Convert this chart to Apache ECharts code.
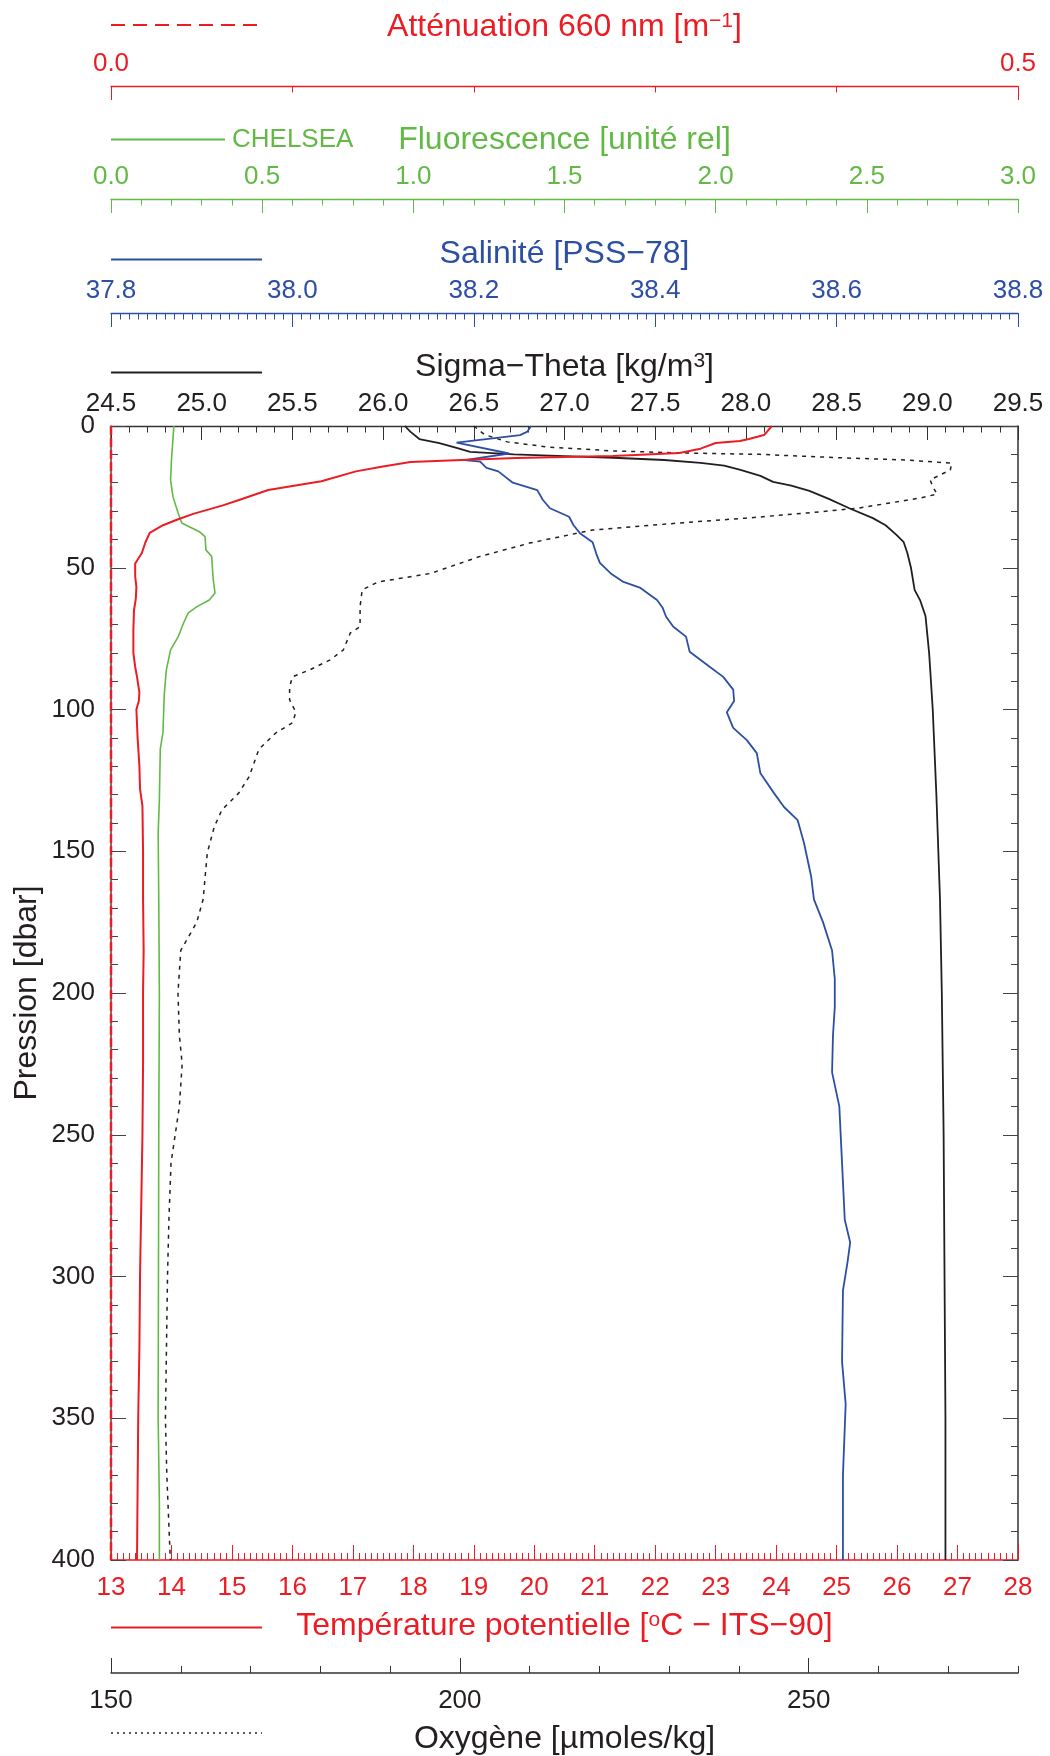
<!DOCTYPE html>
<html><head><meta charset="utf-8">
<script src="https://cdn.jsdelivr.net/npm/echarts@6/dist/echarts.min.js"></script>
<style>html,body{margin:0;padding:0;background:#fff}#c{width:1050px;height:1756px}</style>
</head><body><div id="c"></div>
<script>
// ---- Data (pressure in dbar) ----
const tempP = [0,2,3.2,4.6,5.3,6,8,9.5,10.6,11.3,12,12.7,14.5,16,19.5,22.6,26,28,31,33,35,37.7,41,44.8,48.5,53,56.8,61,65,72,80,85,88.5,94,97,100,110,120,128,134,150,167,185,200,225,250,275,300,325,350,375,400];
const tempV = [23.93,23.85,23.8,23.55,23.4,23.0,22.75,22.4,21.3,19.7,18.8,17.95,17.45,17.05,16.48,15.6,15.13,14.85,14.36,14.1,13.86,13.64,13.57,13.51,13.4,13.4,13.42,13.41,13.38,13.37,13.37,13.4,13.43,13.47,13.46,13.42,13.44,13.47,13.48,13.52,13.53,13.53,13.54,13.53,13.53,13.52,13.5,13.48,13.47,13.45,13.44,13.43];

const sigmaP = [0,2,4.6,6,7.8,9.1,10,10.6,11.2,12,13,14,15.5,17.6,19.7,21,22.9,25.8,29,32.5,35,38.4,41,44.8,50,57.8,61.4,67,80,100,130,167,200,250,300,350,400];
const sigmaV = [26.12,26.15,26.2,26.31,26.41,26.48,26.72,27.0,27.27,27.55,27.75,27.88,27.97,28.08,28.15,28.25,28.35,28.46,28.57,28.7,28.77,28.83,28.87,28.89,28.91,28.93,28.96,28.99,29.01,29.03,29.05,29.07,29.08,29.09,29.095,29.1,29.1];

const salP = [0,2,3.2,5.9,9.7,12,12.6,14.8,16,20,22.6,26,29,32,35,37.8,41,45,48.3,52,55,57,61.4,64,67.3,70.8,74.3,79.6,84.9,88.5,93,97,101,106.5,110.8,115.4,122.5,129.5,134.4,139,147,159,167,175,185,195,205,215,228,240,260,280,288,295,305,330,345,370,400];
const salV = [38.263,38.259,38.251,38.181,38.239,38.19,38.207,38.214,38.227,38.243,38.27,38.276,38.284,38.305,38.31,38.317,38.331,38.335,38.339,38.351,38.365,38.383,38.402,38.408,38.412,38.42,38.434,38.438,38.46,38.475,38.486,38.487,38.479,38.486,38.501,38.512,38.516,38.531,38.542,38.557,38.564,38.572,38.575,38.585,38.595,38.598,38.598,38.596,38.595,38.603,38.606,38.609,38.615,38.612,38.607,38.606,38.61,38.607,38.607];

const fluoP = [0,12,19,25,30.7,34.2,37.4,39,43.7,46,54,58.9,61.4,63.8,66,69.5,74.4,79,86,95,108,114,132,143.6,167,200,250,300,350,380,400];
const fluoV = [0.208,0.2,0.197,0.205,0.222,0.234,0.294,0.311,0.314,0.333,0.338,0.344,0.325,0.283,0.255,0.24,0.222,0.197,0.183,0.176,0.172,0.163,0.16,0.156,0.158,0.16,0.158,0.157,0.156,0.16,0.16];

const oxyP = [0,3,5.6,7.4,8.8,9.5,10,11.2,12,13.1,15.5,19,21.5,24,25.4,29,30.7,32.5,34.2,36.7,41.3,46,52,55,57.8,63.7,70.8,73,79,82.5,86,88.5,92,96.6,101,104.7,108.3,114,123.7,129.5,135.4,141.4,150.6,167,175,185,200,215,225,240,260,280,300,350,370,400];
const oxyV = [202,203.5,206.8,212.5,222,231.6,243,254.5,264,270.5,270.3,267.4,267.8,268.4,266,257,249.7,241,231.5,219,210,202.9,195.8,188.3,186,185.7,185.7,184.3,183.3,181.4,178.5,176,175.6,175.6,176.5,176,173.6,171.2,169.8,168.3,165.9,164.8,163.8,163.2,162.3,160,159.6,159.8,160.2,159.8,158.6,158.3,158.1,157.8,158,158.5];

const attP = [0,400];
const attV = [0,0];

// tick label values [min, max, interval]
const sigmaTicks = [24.5,29.5,0.5];
const salTicks = [37.8,38.8,0.2];
const fluoTicks = [0,3,0.5];
const attTicks = [0,0.5,0.5];
const tempTicks = [13,28,1];
const oxyTicks = [150,280,50];
const presTicks = [0,400,50];

const RED='#ec1c24', GREEN='#62b946', BLUE='#2c4fa4', BLACK='#231f20', GREY='#444';
const FF='"Liberation Sans", Arial, Helvetica, sans-serif';

function pairs(vals, ps){ return vals.map((v,i)=>[v, ps[i]]); }

const sup = {fontSize:21, fontFamily:FF, verticalAlign:'top', padding:[0,0,12,0]};
function nameStyle(color){ return {fontFamily:FF, fontSize:32, color:color, rich:{sup:Object.assign({color:color}, sup)}}; }

function topAxis(t, offset, color, name, minorSplit, fmt, tickColor){
  return {
    type:'value', position:'top', offset:offset, min:t[0], max:t[1], interval:t[2],
    axisLine:{show:true, onZero:false, lineStyle:{color:tickColor||color, width:1.3}},
    axisTick:{show:true, inside:true, length:14, lineStyle:{color:tickColor||color, width:1}},
    minorTick:{show:true, splitNumber:minorSplit, length:6.5, lineStyle:{color:tickColor||color, width:1}},
    axisLabel:{show:true, margin:9.5, fontSize:26, fontFamily:FF, color:color, formatter:fmt},
    splitLine:{show:false}, minorSplitLine:{show:false},
    name:name, nameLocation:'middle', nameGap:42.5, nameMoveOverlap:false, nameTextStyle:nameStyle(color)
  };
}
const f1 = v => Number(v).toFixed(1);

const option = {
  animation:false,
  textStyle:{fontFamily:FF},
  grid:{left:111, right:32, top:426, bottom:196, containLabel:false, outerBoundsMode:'none'},
  xAxis:[
    topAxis(sigmaTicks, 0, BLACK, 'Sigma−Theta [kg/m{sup|3}]', 5, f1, '#333'),
    topAxis(salTicks, 113, BLUE, 'Salinité [PSS−78]', 20, f1),
    topAxis(fluoTicks, 227, GREEN, 'Fluorescence [unité rel]', 5, f1),
    topAxis(attTicks, 340, RED, 'Atténuation 660 nm [m{sup|−1}]', 5, f1),
    {
      type:'value', position:'bottom', offset:0, min:tempTicks[0], max:tempTicks[1], interval:tempTicks[2],
      axisLine:{show:true, onZero:false, lineStyle:{color:RED, width:1.5}},
      axisTick:{show:true, inside:true, length:15, lineStyle:{color:RED, width:1}},
      minorTick:{show:true, splitNumber:10, length:7, lineStyle:{color:RED, width:1}},
      axisLabel:{margin:15, fontSize:26, fontFamily:FF, color:RED},
      splitLine:{show:false}, minorSplitLine:{show:false},
      name:'Température potentielle [{sup|o}C − ITS−90]', nameLocation:'middle', nameGap:50, nameMoveOverlap:false,
      nameTextStyle:nameStyle(RED)
    },
    {
      type:'value', position:'bottom', offset:113, min:oxyTicks[0], max:oxyTicks[1], interval:10,
      axisLine:{show:true, onZero:false, lineStyle:{color:'#333', width:1.5}},
      axisTick:{show:true, inside:true, length:7, lineStyle:{color:'#333', width:1}},
      axisLabel:{margin:15, fontSize:26, fontFamily:FF, color:BLACK, formatter:v => (v % oxyTicks[2] === 0 ? String(v) : '')},
      splitLine:{show:false},
      name:'Oxygène [µmoles/kg]', nameLocation:'middle', nameGap:50, nameMoveOverlap:false,
      nameTextStyle:nameStyle(BLACK)
    },
    {
      type:'value', position:'bottom', offset:113, min:oxyTicks[0], max:oxyTicks[1], interval:oxyTicks[2],
      axisLine:{show:false, onZero:false},
      axisTick:{show:true, inside:true, length:15, customValues:[150,200,250], lineStyle:{color:'#333', width:1}},
      axisLabel:{show:false}, splitLine:{show:false}
    }
  ],
  yAxis:[
    {
      type:'value', position:'left', inverse:true, min:presTicks[0], max:presTicks[1], interval:presTicks[2],
      axisLine:{show:true, onZero:false, lineStyle:{color:GREY, width:1.5}},
      axisTick:{show:true, inside:true, length:15, lineStyle:{color:GREY, width:1}},
      minorTick:{show:true, splitNumber:5, length:7, lineStyle:{color:GREY, width:1}},
      axisLabel:{margin:16, fontSize:26, fontFamily:FF, color:BLACK},
      splitLine:{show:false}, minorSplitLine:{show:false},
      name:'Pression [dbar]', nameLocation:'middle', nameGap:68, nameMoveOverlap:false,
      nameTextStyle:{fontFamily:FF, fontSize:32, color:BLACK}
    },
    {
      type:'value', position:'right', inverse:true, min:presTicks[0], max:presTicks[1], interval:presTicks[2],
      axisLine:{show:true, onZero:false, lineStyle:{color:'#333', width:1.5}},
      axisTick:{show:true, inside:true, length:15, lineStyle:{color:GREY, width:1}},
      minorTick:{show:true, splitNumber:5, length:7, lineStyle:{color:GREY, width:1}},
      axisLabel:{show:false}, splitLine:{show:false}, minorSplitLine:{show:false}
    }
  ],
  series:[
    {name:'Oxygène', type:'line', xAxisIndex:5, yAxisIndex:0, data:pairs(oxyV, oxyP), showSymbol:false, symbol:'none',
      lineStyle:{color:BLACK, width:1.5, type:[4,5]}, z:2},
    {name:'Sigma-Theta', type:'line', xAxisIndex:0, yAxisIndex:0, data:pairs(sigmaV, sigmaP), showSymbol:false, symbol:'none',
      lineStyle:{color:BLACK, width:1.8}, z:3},
    {name:'Salinité', type:'line', xAxisIndex:1, yAxisIndex:0, data:pairs(salV, salP), showSymbol:false, symbol:'none',
      lineStyle:{color:BLUE, width:1.8}, z:4},
    {name:'Fluorescence', type:'line', xAxisIndex:2, yAxisIndex:0, data:pairs(fluoV, fluoP), showSymbol:false, symbol:'none',
      lineStyle:{color:GREEN, width:1.6}, z:5},
    {name:'Température', type:'line', xAxisIndex:4, yAxisIndex:0, data:pairs(tempV, tempP), showSymbol:false, symbol:'none',
      lineStyle:{color:RED, width:2}, z:6},
    {name:'Atténuation', type:'line', xAxisIndex:3, yAxisIndex:0, data:pairs(attV, attP), showSymbol:false, symbol:'none', clip:false,
      lineStyle:{color:RED, width:2.5, type:[9,3]}, z:7}
  ],
  graphic:[
    {type:'line', shape:{x1:111,y1:25,x2:262,y2:25}, style:{stroke:RED, lineWidth:1.8, lineDash:[14,8]}},
    {type:'line', shape:{x1:111,y1:139.5,x2:225,y2:139.5}, style:{stroke:GREEN, lineWidth:1.8}},
    {type:'text', x:232, y:140, style:{text:'CHELSEA', fill:GREEN, font:'26px '+FF, align:'left', verticalAlign:'middle'}},
    {type:'line', shape:{x1:111,y1:259.5,x2:262,y2:259.5}, style:{stroke:BLUE, lineWidth:1.8}},
    {type:'line', shape:{x1:111,y1:372.5,x2:262,y2:372.5}, style:{stroke:BLACK, lineWidth:1.8}},
    {type:'line', shape:{x1:111,y1:1627.5,x2:262,y2:1627.5}, style:{stroke:RED, lineWidth:1.8}},
    {type:'line', shape:{x1:111,y1:1733,x2:262,y2:1733}, style:{stroke:BLACK, lineWidth:1.5, lineDash:[2,4]}}
  ]
};
const chart = echarts.init(document.getElementById('c'), null, {renderer:'canvas'});
chart.setOption(option);
</script>
</body></html>
